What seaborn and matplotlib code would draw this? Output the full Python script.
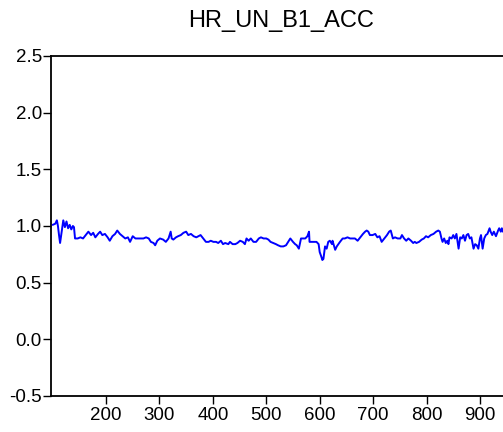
import matplotlib
matplotlib.use("Agg")
import matplotlib.pyplot as plt
import seaborn as sns
import pandas as pd

obs = [100, 105, 108, 110, 112, 114, 117, 120, 123, 126, 129, 132, 135, 138, 140,
       142, 147, 152, 157, 162, 167, 172, 176, 180, 185, 189, 193, 198, 203, 207,
       212, 217, 221, 226, 231, 236, 241, 245, 250, 255, 260,
       264, 270, 275, 280, 284, 289, 292, 296, 301, 307, 312, 317, 321, 323, 326,
       331, 335, 340, 345, 350, 354, 359, 364, 369, 377, 382, 387, 392, 396, 401,
       406, 410, 415, 419, 423, 429,
       432, 437, 442, 446, 451, 456, 460, 463, 467, 471, 476, 481, 486, 490, 495,
       500, 504, 508, 513, 518, 522, 527, 532, 537, 541, 545, 550, 554, 557, 561,
       565, 569, 573, 577, 580, 581, 585, 590, 594, 598, 600,
       603, 605, 607, 610, 613, 616, 619, 623, 624, 629, 632, 635, 638, 643, 647,
       652, 657, 662, 666, 671, 676, 681, 685, 688, 691, 694, 699, 704, 708, 712,
       716, 721, 726, 730, 733, 737, 741, 746, 751, 754, 758, 762, 766,
       771, 775, 778, 781, 786, 791, 795, 799, 803, 808, 813, 818, 822, 825, 828,
       830, 833, 836, 839, 841, 843, 847, 850, 853, 856, 860, 863, 866, 869, 872,
       875, 878, 881, 884, 888, 891, 894, 897, 900, 902, 905, 908, 911, 914, 918,
       920, 923, 926, 930, 934, 936, 939, 941, 943, 947, 952, 957]

acc = [1.01, 1.02, 1.05, 1.00, 0.92, 0.85, 0.95, 1.05, 0.99, 1.04, 0.98, 1.01, 0.97, 1.00, 0.99,
       0.89, 0.89, 0.90, 0.89, 0.92, 0.95, 0.92, 0.94, 0.90, 0.93, 0.95, 0.92, 0.93, 0.90, 0.87,
       0.91, 0.93, 0.96, 0.93, 0.91, 0.89, 0.90, 0.86, 0.91, 0.89, 0.89,
       0.89, 0.89, 0.90, 0.89, 0.86, 0.85, 0.83, 0.87, 0.89, 0.88, 0.86, 0.89, 0.95, 0.89, 0.88,
       0.90, 0.91, 0.92, 0.94, 0.95, 0.92, 0.93, 0.91, 0.90, 0.92, 0.89, 0.86, 0.86, 0.87, 0.86,
       0.86, 0.85, 0.87, 0.84, 0.85, 0.84,
       0.86, 0.84, 0.84, 0.85, 0.87, 0.86, 0.84, 0.89, 0.87, 0.89, 0.86, 0.86, 0.89, 0.90, 0.89,
       0.89, 0.88, 0.86, 0.85, 0.84, 0.83, 0.82, 0.82, 0.83, 0.86, 0.89, 0.86, 0.84, 0.83, 0.80,
       0.89, 0.89, 0.89, 0.91, 0.95, 0.86, 0.86, 0.86, 0.86, 0.84, 0.77,
       0.73, 0.70, 0.71, 0.82, 0.80, 0.86, 0.87, 0.84, 0.87, 0.79, 0.82, 0.84, 0.86, 0.89, 0.89,
       0.90, 0.89, 0.89, 0.89, 0.87, 0.90, 0.93, 0.95, 0.96, 0.95, 0.92, 0.92, 0.93, 0.90, 0.91,
       0.86, 0.89, 0.92, 0.95, 0.96, 0.89, 0.90, 0.89, 0.89, 0.92, 0.89, 0.87, 0.89,
       0.87, 0.85, 0.86, 0.85, 0.86, 0.88, 0.89, 0.91, 0.90, 0.92, 0.93, 0.95, 0.96, 0.95, 0.89,
       0.86, 0.89, 0.85, 0.87, 0.84, 0.90, 0.89, 0.92, 0.89, 0.93, 0.80, 0.90, 0.89, 0.92, 0.87,
       0.92, 0.93, 0.89, 0.90, 0.80, 0.84, 0.83, 0.80, 0.89, 0.92, 0.80, 0.89, 0.92, 0.93, 0.98,
       0.95, 0.92, 0.95, 0.91, 0.96, 0.98, 0.95, 0.98, 0.95, 0.97, 0.94, 0.96]

title = "HR_UN_B1_ACC"
xticks = [200, 300, 400, 500, 600, 700, 800, 900]
yticks = [-0.5, 0.0, 0.5, 1.0, 1.5, 2.0, 2.5]

sns.set_theme(style="white")
plt.rcParams['font.family'] = ['Liberation Sans', 'DejaVu Sans']

df = pd.DataFrame({"obs": obs, "acc": acc})

fig = plt.figure(figsize=(5.03, 4.32), dpi=100)
ax = fig.add_axes([51 / 503, 36 / 432, 461 / 503, 340 / 432])
sns.lineplot(data=df, x="obs", y="acc", ax=ax, color="#0000ff", linewidth=1.4)

ax.set_xlim(97, 960)
ax.set_ylim(-0.5, 2.5)
ax.set_xticks(xticks)
ax.set_yticks(yticks)
ax.set_yticklabels([f"{v:.1f}" for v in yticks])
ax.set_xlabel("")
ax.set_ylabel("")
ax.set_title(title, fontsize=17, pad=21, color="black")

for s in ["left", "top", "bottom"]:
    ax.spines[s].set_visible(True)
    ax.spines[s].set_color("black")
    ax.spines[s].set_linewidth(1.3)
ax.spines["right"].set_visible(False)

ax.tick_params(axis="both", which="major", direction="out", color="black",
               labelcolor="black", labelsize=13.5, width=1.0)
ax.tick_params(axis="y", length=5.5, pad=1, left=True)
ax.tick_params(axis="x", length=6, pad=2, bottom=True)
ax.grid(False)

fig.savefig("out.png", dpi=100)
